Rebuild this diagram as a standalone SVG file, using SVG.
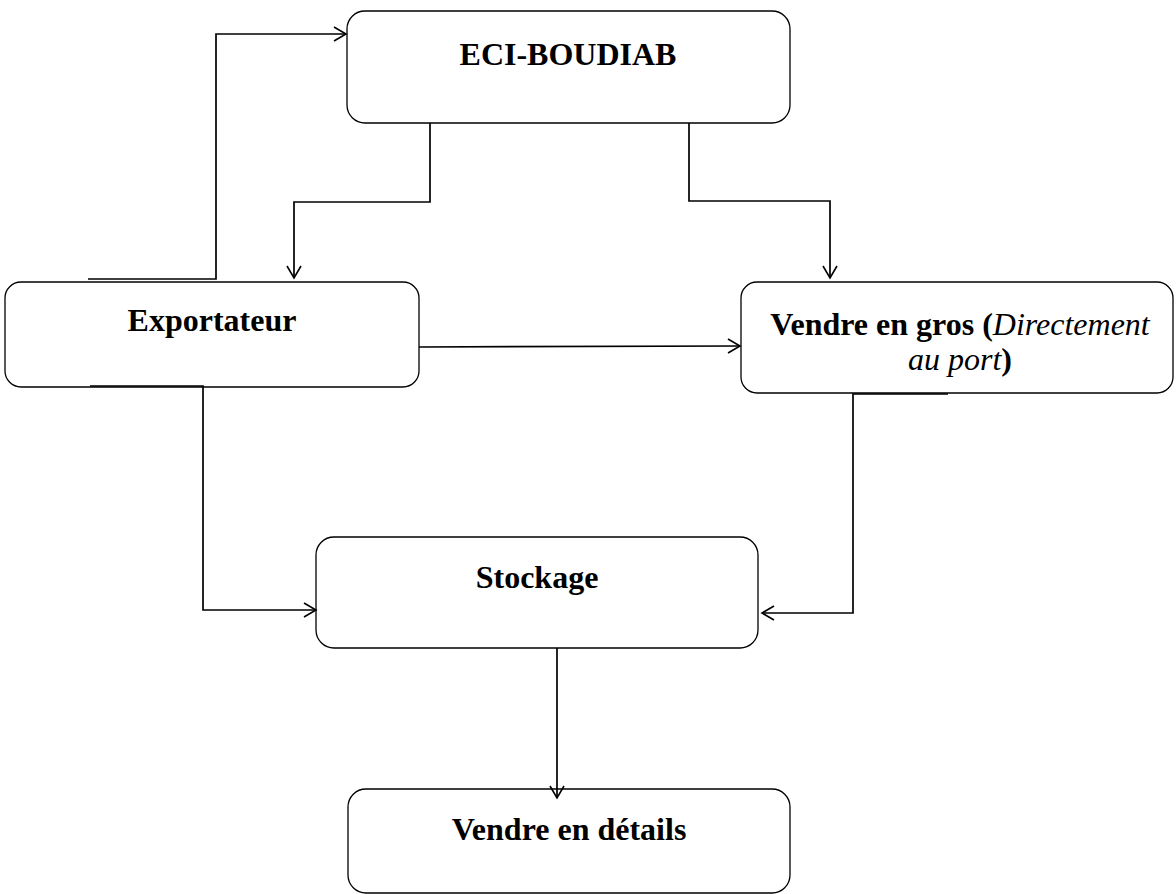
<svg xmlns="http://www.w3.org/2000/svg" width="1176" height="894" viewBox="0 0 1176 894">
<style>
.box{fill:#fff;stroke:#000;stroke-width:1.3}
.lbl{font-family:"Liberation Serif","Times New Roman",serif;font-size:32px;font-weight:bold;fill:#000;text-anchor:middle}
.it{font-style:italic;font-weight:normal}
.c{fill:none;stroke:#000;stroke-width:1.7}
</style>
<defs>
<marker id="arr" markerUnits="userSpaceOnUse" markerWidth="16" markerHeight="18" refX="13" refY="8" orient="auto" viewBox="0 0 16 16">
<path d="M1,1 L13,8 L1,15" fill="none" stroke="#000" stroke-width="1.6"/>
</marker>
</defs>
<rect width="1176" height="894" fill="#fff"/>
<g id="n-eci">
<rect class="box" x="347" y="11" width="443" height="112" rx="18"/>
<text class="lbl" x="568" y="65">ECI-BOUDIAB</text>
</g>
<g id="n-exportateur">
<rect class="box" x="5" y="282" width="414" height="105" rx="16"/>
<text class="lbl" x="212" y="331">Exportateur</text>
</g>
<g id="n-vendre-gros">
<rect class="box" x="741" y="282" width="432" height="111" rx="16"/>
<text class="lbl" x="960" y="335">Vendre en gros (<tspan class="it">Directement</tspan></text>
<text class="lbl" x="960" y="370"><tspan class="it">au port</tspan>)</text>
</g>
<g id="n-stockage">
<rect class="box" x="316" y="537" width="442" height="111" rx="18"/>
<text class="lbl" x="537" y="588">Stockage</text>
</g>
<g id="n-vendre-details">
<rect class="box" x="348" y="789" width="442" height="104" rx="18"/>
<text class="lbl" x="569" y="840">Vendre en détails</text>
</g>
<g id="connectors">
<path class="c" d="M88,279 H216 V34 H346" marker-end="url(#arr)"/>
<path class="c" d="M430,123 V202 H294 V278" marker-end="url(#arr)"/>
<path class="c" d="M689,123 V201 H830 V278" marker-end="url(#arr)"/>
<path class="c" d="M419,347 L740,346" marker-end="url(#arr)"/>
<path class="c" d="M90,386 H203 V610 H316" marker-end="url(#arr)"/>
<path class="c" d="M948,394 H853 V613 H762" marker-end="url(#arr)"/>
<path class="c" d="M557,648 V798" marker-end="url(#arr)"/>
</g>
</svg>
